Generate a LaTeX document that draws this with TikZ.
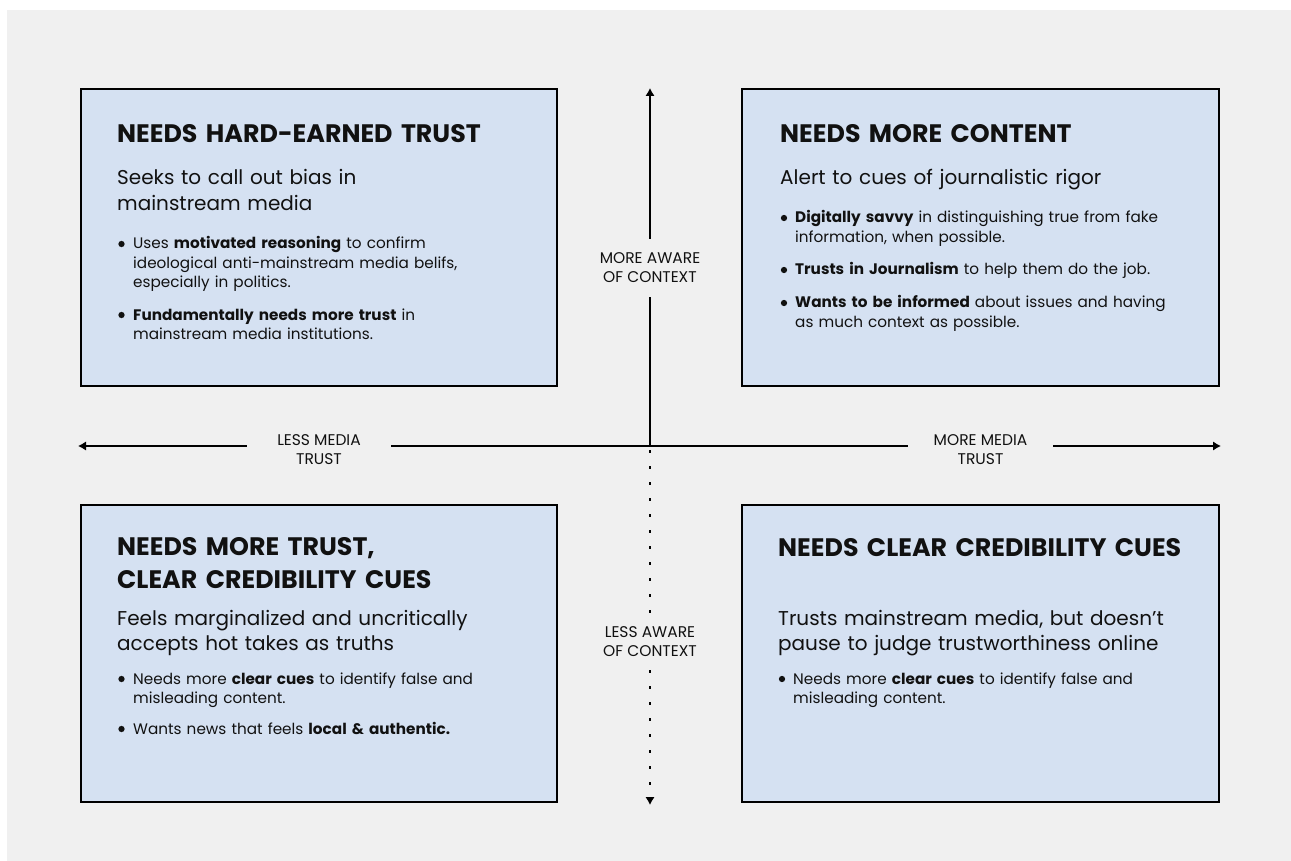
\documentclass[tikz,border=0pt]{standalone}
\usepackage{fontspec}
\setmainfont{Poppins}
\usetikzlibrary{arrows.meta}
\definecolor{bggray}{HTML}{F0F0F0}
\definecolor{boxblue}{HTML}{D5E1F2}
\definecolor{ink}{HTML}{111111}
\begin{document}
\begin{tikzpicture}[x=1pt,y=-1pt,
  quad/.style={draw=black, line width=2.8pt, fill=boxblue},
  ttl/.style={anchor=base west, inner sep=0, font=\fontsize{25.3}{33}\selectfont\bfseries, text width=450pt, align=left, text=ink},
  sub/.style={anchor=base west, inner sep=0, font=\fontsize{20}{25.8}\selectfont, text width=450pt, align=left, text=ink},
  btxt/.style={anchor=base west, inner sep=0, font=\fontsize{15.25}{19.5}\selectfont, text width=420pt, align=left, text=ink},
  bdot/.style={circle, fill=ink, inner sep=0, minimum size=6.3pt},
  axlab/.style={font=\fontsize{15.5}{19}\selectfont, align=center, inner sep=0, text=ink},
  axisline/.style={line width=2pt, black},
  tipend/.style={-{Latex[length=8pt,width=9.5pt]}},
  dotline/.style={dash pattern=on 3pt off 13pt}
]
\fill[bggray] (7,10) rectangle (1291,861);
\useasboundingbox (0,0) rectangle (1291,861);

% quadrant boxes
\draw[quad] (81,89) rectangle (557,386);
\draw[quad] (742,89) rectangle (1219,386);
\draw[quad] (81,505) rectangle (557,802);
\draw[quad] (742,505) rectangle (1219,802);

% axes
\coordinate (ctr) at (650,446);
\coordinate (ttip) at (650,88);
\coordinate (btip) at (650,805);
\coordinate (ltip) at (78,446);
\coordinate (rtip) at (1221,446);
\node[axlab, minimum height=58pt] (ma) at (650,268) {MORE AWARE\\OF CONTEXT};
\node[axlab, minimum height=56pt] (la) at (650,642) {LESS AWARE\\OF CONTEXT};
\node[axlab, minimum width=144pt] (lm) at (319,450) {LESS MEDIA\\TRUST};
\node[axlab, minimum width=145pt] (mm) at (980.5,450) {MORE MEDIA\\TRUST};

\draw[axisline, tipend] (ma.north) -- (ttip);
\draw[axisline] (ma.south) -- (ctr);
\draw[axisline, dotline, dash phase=12pt] (ctr) -- (la.north);
\draw[axisline, dotline, tipend] (la.south) -- (btip);
\draw[axisline, tipend] (lm.west |- ctr) -- (ltip);
\draw[axisline] (lm.east |- ctr) -- (mm.west |- ctr);
\draw[axisline, tipend] (mm.east |- ctr) -- (rtip);

% top-left
\node[ttl] (t1) at (117,143) {NEEDS HARD-EARNED TRUST};
\node[sub] (s1) at (117,185) {Seeks to call out bias in\\mainstream media};
\node[bdot] (d11) at (121.5,244) {};
\node[btxt] (b11) at (133,249) {Uses \textbf{motivated reasoning} to confirm\\ideological anti-mainstream media belifs,\\especially in politics.};
\node[bdot] (d12) at (121.5,315) {};
\node[btxt] (b12) at (133,320) {\textbf{Fundamentally needs more trust} in\\mainstream media institutions.};

% top-right
\node[ttl] (t2) at (780,143) {NEEDS MORE CONTENT};
\node[sub] (s2) at (780,185) {Alert to cues of journalistic rigor};
\node[bdot] (d21) at (784,218) {};
\node[btxt] (b21) at (795,223) {\textbf{Digitally savvy} in distinguishing true from fake\\information, when possible.};
\node[bdot] (d22) at (784,270) {};
\node[btxt] (b22) at (795,275) {\textbf{Trusts in Journalism} to help them do the job.};
\node[bdot] (d23) at (784,303) {};
\node[btxt] (b23) at (795,308) {\textbf{Wants to be informed} about issues and having\\as much context as possible.};

% bottom-left
\node[ttl] (t3) at (117,555) {NEEDS MORE TRUST,\\CLEAR CREDIBILITY CUES};
\node[sub] (s3) at (117,625) {Feels marginalized and uncritically\\accepts hot takes as truths};
\node[bdot] (d31) at (121.5,679) {};
\node[btxt] (b31) at (133,684) {Needs more \textbf{clear cues} to identify false and\\misleading content.};
\node[bdot] (d32) at (121.5,729) {};
\node[btxt] (b32) at (133,734) {Wants news that feels \textbf{local \& authentic.}};

% bottom-right
\node[ttl] (t4) at (778,556) {NEEDS CLEAR CREDIBILITY CUES};
\node[sub] (s4) at (778,625) {Trusts mainstream media, but doesn’t\\pause to judge trustworthiness online};
\node[bdot] (d41) at (782,679) {};
\node[btxt] (b41) at (793,684) {Needs more \textbf{clear cues} to identify false and\\misleading content.};
\end{tikzpicture}
\end{document}
